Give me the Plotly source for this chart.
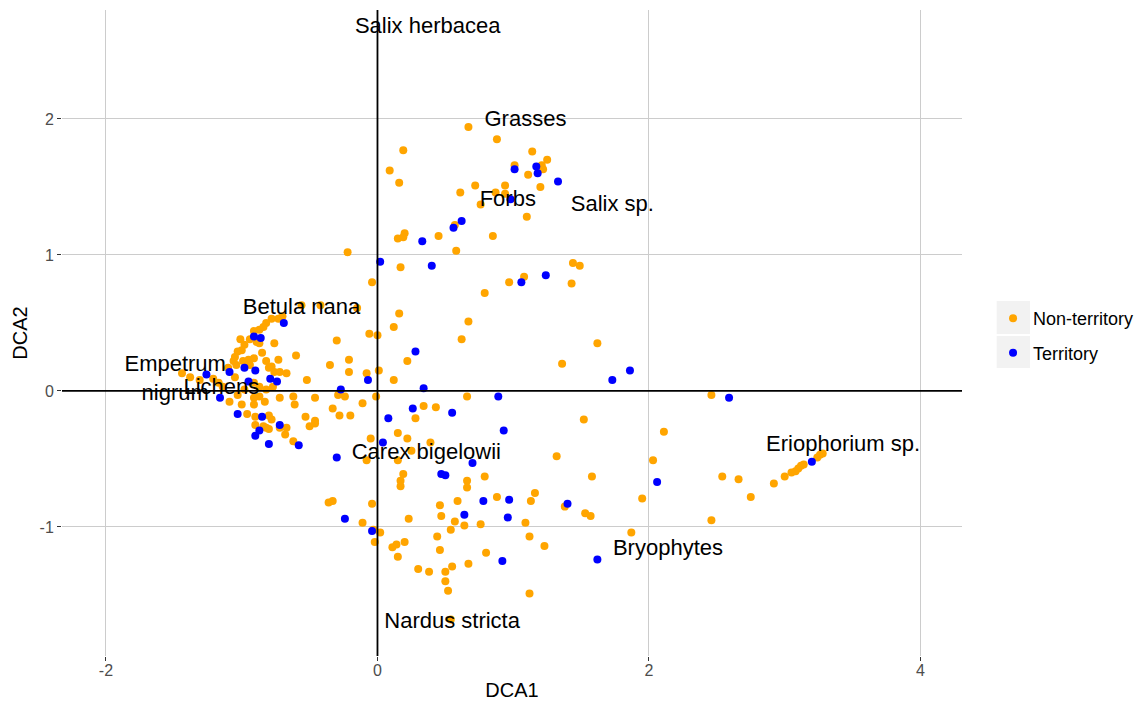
import plotly.graph_objects as go

# Site scores on the first two DCA axes, split by territory status
nonterritory_dca1 = [
    0.67, 0.88, 0.19, 1.14, 1.25, 1.01, 0.09, 1.21, 1.22, 1.11, 0.16, 1.20, 0.72, 0.94, 0.61, 0.87,
    0.94, 0.76, 1.10, 0.57, 0.45, 0.20, 0.19, 0.15, 0.85, -0.22, 0.58, 0.17, -0.04, 0.97, 1.08, 0.79,
    1.44, 1.49, 1.43,
    1.62, 1.36, 2.46, 1.52, 2.11, 2.03, 1.58, 1.32, 2.54, 2.66, 2.75, 2.92, 3.00, 3.05, 3.08, 3.10,
    3.12, 3.14, 3.24, 3.26, 3.28, 2.46, 1.95, 1.38, 1.53, 1.57, 1.87,
    -0.05, 0.15, 0.22, 0.28, 0.39, -0.08, 0.15, 0.25, 0.19, 0.17, 0.17, 0.66, 0.66, 0.79, 1.16, 1.13,
    0.88, 0.59, 0.46, 0.47, 0.57, 0.64, 0.76, 1.09, 1.12, -0.36, -0.33, -0.04, -0.11, -0.03, 0.02, -0.02,
    0.23, 0.54, 0.44, 0.11, 0.14, 0.20, 0.15, 0.46, 0.80, 1.23, 0.67, 0.55, 0.30, 0.38, 0.50, 0.50,
    0.52, 1.12, 0.54,
    0.16, 0.12, 0.67, -0.06, 0.00, -0.30, 0.62, 0.22, -0.35, -0.21, -0.21, 0.01, -0.08, 0.12, -0.52, -0.29,
    -0.24, -0.01, -0.46, 0.66, -0.33, -0.28, -0.20, -0.11, -0.53, -0.46, -0.50, -0.46, 0.34, 0.43, -0.60, -0.62,
    -0.61, -0.56, -0.42, -0.15,
    -0.70, -0.73, -0.78, -0.82, -0.84, -0.87, -0.91, -0.94, -0.89, -0.87, -0.76, -0.98, -1.00, -1.03, -1.05, -1.06,
    -1.04, -0.99, -0.95, -0.91, -0.85, -0.73, -0.82, -0.94, -0.80, -0.78, -0.76, -0.72, -0.67, -1.21, -1.17, -1.14,
    -0.91, -0.87, -0.77, -0.82, -1.09, -1.00, -0.91, -0.83, -0.91, -0.87, -0.72, -0.96, -0.90, -0.80, -0.78, -0.90,
    -0.84, -0.82, -0.80, -0.72, -0.67, -0.68, -0.62, -1.38, -1.31, -1.44, -1.01, -1.10, -1.05, -0.98, -1.03,
]
nonterritory_dca2 = [
    1.94, 1.85, 1.77, 1.76, 1.70, 1.66, 1.62, 1.66, 1.63, 1.59, 1.53, 1.50, 1.51, 1.51, 1.46, 1.46,
    1.45, 1.37, 1.28, 1.22, 1.14, 1.16, 1.13, 1.12, 1.14, 1.02, 1.03, 0.91, 0.80, 0.80, 0.84, 0.72,
    0.94, 0.92, 0.79,
    0.35, 0.20, -0.03, -0.21, -0.30, -0.51, -0.63, -0.48, -0.63, -0.65, -0.78, -0.68, -0.63, -0.60, -0.59, -0.57,
    -0.55, -0.54, -0.49, -0.47, -0.46, -0.95, -0.79, -0.85, -0.90, -0.92, -1.04,
    -0.35, -0.31, -0.35, -0.20, -0.38, -0.51, -0.51, -0.44, -0.61, -0.66, -0.70, -0.66, -0.71, -0.63, -0.75, -0.81,
    -0.78, -0.81, -0.84, -0.92, -0.96, -0.99, -0.98, -0.97, -1.07, -0.82, -0.81, -0.83, -0.97, -1.02, -1.04, -1.11,
    -0.94, -1.02, -1.07, -1.15, -1.13, -1.11, -1.22, -1.17, -1.19, -1.14, -1.27, -1.29, -1.31, -1.33, -1.33, -1.40,
    -1.47, -1.49, -1.68,
    0.57, 0.47, 0.51, 0.42, 0.41, 0.37, 0.38, 0.22, 0.19, 0.23, 0.14, 0.15, 0.13, 0.08, 0.08, -0.03,
    -0.04, -0.04, -0.05, -0.04, -0.13, -0.18, -0.18, -0.09, -0.19, -0.22, -0.26, -0.24, -0.11, -0.12, 0.26, -0.04,
    -0.10, 0.63, 0.63, 0.61,
    0.55, 0.53, 0.53, 0.50, 0.47, 0.45, 0.44, 0.38, 0.36, 0.35, 0.35, 0.34, 0.30, 0.29, 0.25, 0.22,
    0.19, 0.22, 0.23, 0.24, 0.28, 0.23, 0.22, 0.19, 0.17, 0.18, 0.14, 0.14, 0.13, 0.09, 0.06, 0.03,
    0.06, 0.03, 0.03, 0.01, -0.08, -0.10, -0.10, -0.08, -0.05, -0.04, -0.05, -0.17, -0.19, -0.18, -0.21, -0.25,
    -0.26, -0.27, -0.28, -0.27, -0.27, -0.32, -0.37, 0.10, 0.08, 0.13, 0.38, 0.17, 0.10, 0.01, -0.03,
]

territory_dca1 = [
    1.01, 1.17, 1.18, 1.33, 0.98, 0.62, 0.56, 0.33, 0.02, 0.40, 1.06, 1.24, 1.86, 1.73, 2.59, 3.20,
    2.06, 1.40, 1.62, 0.93, 0.04, -0.58, -0.30, 0.70, 0.47, 0.50, 0.78, 0.97, 0.64, 0.96, -0.24, -0.04,
    0.92, 0.28, -0.07, -0.27, 0.34, 0.89, 0.26, 0.08, 0.55, -0.69, -0.91, -0.86, -1.09, -1.26, -0.98, -0.90,
    -0.79, -0.74, -0.95, -1.16, -1.03, -0.85, -0.87, -0.72, -0.90, -0.80,
]
territory_dca2 = [
    1.63, 1.65, 1.60, 1.54, 1.41, 1.25, 1.20, 1.10, 0.95, 0.92, 0.80, 0.85, 0.15, 0.08, -0.05, -0.52,
    -0.67, -0.83, -1.24, -0.29, -0.38, -0.40, -0.49, -0.53, -0.61, -0.62, -0.81, -0.80, -0.91, -0.93, -0.94, -1.03,
    -1.25, 0.29, 0.08, 0.01, 0.02, -0.04, -0.13, -0.20, -0.16, 0.50, 0.40, 0.39, 0.14, 0.12, 0.17, 0.15,
    0.09, 0.07, 0.07, -0.05, -0.17, -0.19, -0.29, -0.25, -0.33, -0.39,
]

# Species scores shown as text labels
species = ["Salix herbacea", "Grasses", "Forbs", "Salix sp.", "Betula nana", "Empetrum<br>nigrum",
           "Lichens", "Carex bigelowii", "Nardus stricta", "Bryophytes", "Eriophorium sp."]
species_dca1 = [0.37, 1.09, 0.96, 1.73, -0.56, -1.49, -1.15, 0.36, 0.55, 2.14, 3.43]
species_dca2 = [2.675, 1.99, 1.40, 1.365, 0.605, 0.08, 0.02, -0.46, -1.70, -1.165, -0.40]

x_ticks = [-2, 0, 2, 4]
x_tick_labels = ["-2", "0", "2", "4"]
y_ticks = [-1, 0, 1, 2]
y_tick_labels = ["-1", "0", "1", "2"]

FONT = "Liberation Sans, Arial, sans-serif"
ORANGE = "#FFA500"
BLUE = "#0000FF"

fig = go.Figure()
fig.add_trace(go.Scatter(
    x=nonterritory_dca1, y=nonterritory_dca2, mode="markers", name="Non-territory",
    legendgroup="a", marker=dict(color=ORANGE, size=8, line=dict(width=0)),
))
fig.add_trace(go.Scatter(
    x=territory_dca1, y=territory_dca2, mode="markers", name="Territory",
    legendgroup="b", marker=dict(color=BLUE, size=8, line=dict(width=0)),
))
fig.add_trace(go.Scatter(
    x=species_dca1, y=species_dca2, mode="text", text=species, textposition="middle center",
    textfont=dict(family=FONT, size=22, color="black"), showlegend=False, hoverinfo="skip",
))

# Reference lines through the origin
fig.add_shape(type="line", xref="x", yref="paper", x0=0, x1=0, y0=0, y1=1,
              line=dict(color="black", width=1.8), layer="above")
fig.add_shape(type="line", xref="paper", yref="y", x0=0, x1=1, y0=0, y1=0,
              line=dict(color="black", width=1.8), layer="above")

# Grey key backgrounds behind the legend symbols
for y0, y1 in [(0.4985, 0.5495), (0.4458, 0.4954)]:
    fig.add_shape(type="rect", xref="paper", yref="paper", x0=1.0385, x1=1.0755, y0=y0, y1=y1,
                  line=dict(width=0), fillcolor="#f2f2f2", layer="below")

axis_common = dict(
    showgrid=True, gridcolor="#cccccc", gridwidth=1, zeroline=False, showline=False,
    ticks="outside", ticklen=4, tickcolor="#333333", tickwidth=1,
    tickfont=dict(family=FONT, size=16, color="#4d4d4d"),
)
fig.update_xaxes(
    range=[-2.324, 4.306], tickvals=x_ticks, ticktext=x_tick_labels, ticklabelstandoff=-4,
    title=dict(text="DCA1", font=dict(family=FONT, size=20, color="black"), standoff=4),
    **axis_common,
)
fig.update_yaxes(
    range=[-1.949, 2.801], tickvals=y_ticks, ticktext=y_tick_labels,
    title=dict(text="DCA2", font=dict(family=FONT, size=20, color="black"), standoff=6),
    **axis_common,
)

fig.update_layout(
    width=1137, height=706,
    margin=dict(l=62, r=175, t=10, b=50, autoexpand=False),
    paper_bgcolor="white", plot_bgcolor="white",
    font=dict(family=FONT),
    legend=dict(
        x=1.0345, y=0.551, xanchor="left", yanchor="top",
        font=dict(family=FONT, size=18, color="black"),
        bgcolor="rgba(0,0,0,0)", tracegroupgap=8, traceorder="grouped",
    ),
)

fig.write_html("out.html")
